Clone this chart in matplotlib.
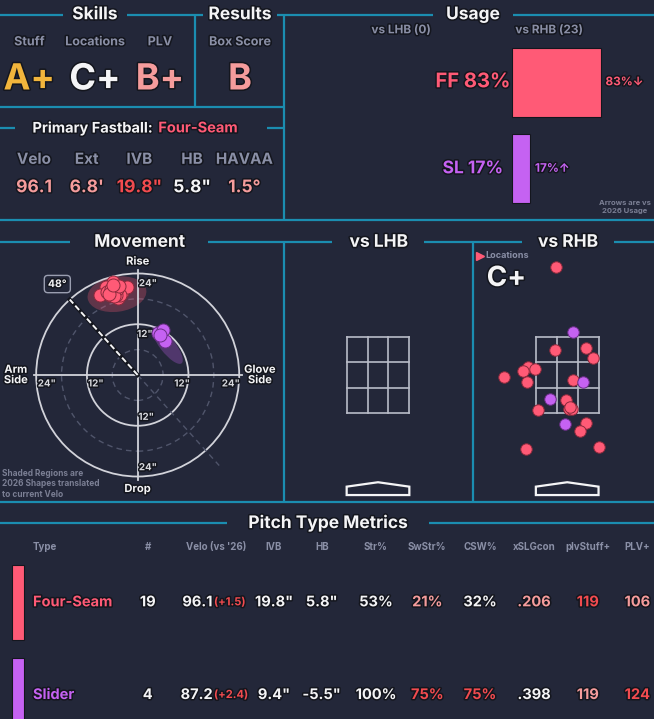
import matplotlib
matplotlib.use("Agg")
import matplotlib.pyplot as plt
import matplotlib.patheffects as pe
from matplotlib.patches import Ellipse, Circle, Polygon, Rectangle
import numpy as np

W, H = 654, 719
BG = "#232739"
OUTL = "#14161e"
TEAL = "#1b8db0"
GREY = "#8a8fa6"
DGREY = "#7b7f94"
WHITE = "#f4f4f6"
PINK = "#f59c9c"
RED = "#f24b4f"
GOLD = "#f2b53c"
FF_COL = "#ff5a76"
SL_COL = "#c562f2"

plt.rcParams['font.family'] = ['Inter', 'DejaVu Sans']
plt.rcParams['font.weight'] = 'bold'

# ---- data ----
skill_names = ["Stuff", "Locations", "PLV", "Box Score"]
skill_grades = ["A+", "C+", "B+", "B"]
skill_colors = [GOLD, WHITE, PINK, PINK]

fb_labels = ["Velo", "Ext", "IVB", "HB", "HAVAA"]
fb_values = ["96.1", "6.8'", '19.8"', '5.8"', "1.5°"]
fb_colors = [PINK, PINK, RED, WHITE, PINK]

pitch_codes = ["FF", "SL"]
pitch_names = ["Four-Seam", "Slider"]
pitch_colors = [FF_COL, SL_COL]
usage_rhb = [83, 17]
usage_arrows = ["↓", "↑"]
n_lhb = 0
n_rhb = 23

# movement (HB: arm side positive, inches)
ff_hb = [5.8, 7.5, 8.9, 6.5, 4.6, 5.4, 3.8, 2.6, 4.2, 5.0, 7.3, 6.0, 5.2, 4.8, 6.3, 5.5, 4.4, 6.8, 5.9]
ff_ivb = [22.1, 20.9, 18.9, 18.9, 18.1, 20.1, 19.7, 20.7, 18.9, 20.9, 19.7, 19.5, 19.0, 20.3, 20.4, 18.6, 21.0, 19.2, 21.3]
sl_hb = [-4.9, -6.0, -6.4, -5.3]
sl_ivb = [9.9, 10.6, 8.0, 9.5]
arm_angle = 48

# 2026 shapes
shape_hb = [4.9, -7.0]
shape_ivb = [19.1, 7.1]
shape_w = [14.0, 11.0]
shape_h = [8.3, 3.6]
shape_ang = [8, -52]

# locations vs RHB (feet)
ff_px = [-0.26, -0.27, 0.43, 0.58, -0.88, -0.72, -1.00, -1.44, -0.90, 0.14, -0.02, 0.03, 0.11, -0.65, 0.43, 0.30, -0.93, 0.72, 0.07]
ff_pz = [4.90, 3.03, 3.08, 2.86, 2.64, 2.60, 2.55, 2.42, 2.30, 2.35, 1.90, 1.70, 1.70, 1.67, 1.37, 1.21, 0.80, 0.84, 1.75]
sl_px = [0.12, 0.36, -0.40, -0.05]
sl_pz = [3.44, 2.30, 1.93, 1.36]

# table
col_names = ["Type", "#", "Velo (vs '26)", "IVB", "HB", "Str%", "SwStr%", "CSW%", "xSLGcon", "plvStuff+", "PLV+"]
counts = [19, 4]
velo = [96.1, 87.2]
velo_diff = [1.5, 2.4]
ivb = [19.8, 9.4]
hb = [5.8, -5.5]
str_pct = [53, 100]
swstr = [21, 75]
csw = [32, 75]
xslg = [0.206, 0.398]
stuff = [119, 119]
plv = [106, 124]
cell_colors = [
    [WHITE, WHITE, WHITE, WHITE, WHITE, PINK, WHITE, PINK, RED, PINK],
    [WHITE, WHITE, WHITE, WHITE, WHITE, RED, RED, WHITE, PINK, RED],
]

# ---- figure ----
fig = plt.figure(figsize=(W / 100, H / 100), dpi=100, facecolor=BG)
bg = fig.add_axes([0, 0, 1, 1])
bg.set_xlim(0, W)
bg.set_ylim(H, 0)
bg.axis('off')

stroke = [pe.withStroke(linewidth=2.2, foreground=OUTL)]


def px_axes(x0, y0, x1, y1):
    a = fig.add_axes([x0 / W, 1 - y1 / H, (x1 - x0) / W, (y1 - y0) / H])
    a.axis('off')
    return a


def txt(ax, x, y, s, size, color=WHITE, ha='center', va='center', **kw):
    return ax.text(x, y, s, fontsize=size, color=color, ha=ha, va=va,
                   fontweight='bold', path_effects=stroke, **kw)


def hline(y, x0, x1):
    bg.plot([x0, x1], [y, y], color=TEAL, lw=1.6, solid_capstyle='butt')


def vline(x, y0, y1):
    bg.plot([x, x], [y0, y1], color=TEAL, lw=1.6, solid_capstyle='butt')


# section frames
for seg in [(0, 63), (127, 203), (277, 433), (513, 654)]:
    hline(14.7, *seg)
vline(195, 14.7, 107.3)
vline(284, 14.7, 220)
hline(107.3, 0, 284)
hline(128.3, 0, 15)
hline(128.3, 267, 284)
hline(220, 0, 654)
for seg in [(0, 70), (208, 332), (424, 522), (614, 654)]:
    hline(242.3, *seg)
vline(284, 242.3, 502)
vline(473.3, 242.3, 502)
hline(502, 0, 654)
hline(523.3, 0, 227)
hline(523.3, 429, 654)

# titles
txt(bg, 95, 14.7, "Skills", 12.5)
txt(bg, 240, 14.7, "Results", 12.5)
txt(bg, 473, 14.7, "Usage", 12.5)
txt(bg, 139.5, 242.3, "Movement", 12.5)
txt(bg, 378.8, 242.3, "vs LHB", 12.5)
txt(bg, 568, 242.3, "vs RHB", 12.5)
txt(bg, 328, 523.3, "Pitch Type Metrics", 12.5)

# skills
for x, name, grade, col in zip([29.3, 95, 160, 240], skill_names, skill_grades, skill_colors):
    txt(bg, x, 42.3, name, 9, GREY)
    txt(bg, x, 80, grade, 26, col)

# primary fastball
txt(bg, 152.7, 128.3, "Primary Fastball:", 10.5, WHITE, ha='right')
txt(bg, 158.3, 128.3, pitch_names[0], 10.5, FF_COL, ha='left')
for x, lab, val, col in zip([34, 86.7, 139.3, 192, 244.3], fb_labels, fb_values, fb_colors):
    txt(bg, x, 159.3, lab, 11, GREY)
    txt(bg, x, 187.7, val, 12.5, col)

# usage
txt(bg, 401, 30.3, f"vs LHB ({n_lhb})", 8.5, GREY)
txt(bg, 549, 30.3, f"vs RHB ({n_rhb})", 8.5, GREY)
ua = px_axes(512.3, 39, 512.3 + 106.9, 212)
ua.set_xlim(0, 100)
ua.set_ylim(1.5, -0.5)
ua.barh(range(len(usage_rhb)), usage_rhb, height=0.8, color=pitch_colors,
        edgecolor=OUTL, linewidth=0.8)
for i, (code, u, arr, col) in enumerate(zip(pitch_codes, usage_rhb, usage_arrows, pitch_colors)):
    txt(ua, -36.8, i, f"{code} {u}%", 14.5 if i == 0 else 12.5, col)
    ua.annotate(f"{u}%{arr}", xy=(u, i), xytext=(3.2, 0), textcoords='offset points',
                ha='left', va='center', fontsize=8.5, color=col, fontweight='bold',
                path_effects=stroke, annotation_clip=False)
bg.text(651, 207, "Arrows are vs\n2026 Usage", fontsize=5.5, color=DGREY, ha='right',
        va='center', fontweight='bold', linespacing=1.3, multialignment='center')

# movement
ma = px_axes(0, 250, 284, 500)
ma.set_xlim(-32.55, 34.59)
ma.set_ylim(-29.55, 29.55)
for r in [6, 18]:
    ma.add_patch(Circle((0, 0), r, fill=False, ec="#50556b", lw=1, ls=(0, (4, 3))))
for r in [12, 24]:
    ma.add_patch(Circle((0, 0), r, fill=False, ec="#d2d3da", lw=1.3))
ma.plot([-24.6, 24.6], [0, 0], color="#d2d3da", lw=1.3)
ma.plot([0, 0], [-24.8, 24.8], color="#d2d3da", lw=1.3)
ang = np.radians(arm_angle)
ma.plot([0, 28.8 * np.cos(ang)], [0, -28.8 * np.sin(ang)], color="#4f546a", lw=1, ls=(0, (4, 3)))
ma.plot([0, -24 * np.cos(ang)], [0, 24 * np.sin(ang)], color=OUTL, lw=3)
ma.plot([0, -24 * np.cos(ang)], [0, 24 * np.sin(ang)], color=WHITE, lw=1.4, ls=(0, (3, 1.5)))
txt(ma, -19.0, 21.5, f"{arm_angle}°", 7.5, WHITE,
    bbox=dict(boxstyle="round,pad=0.35", fc=BG, ec="#9a9eb0", lw=1))
for i in range(2):
    ma.add_patch(Ellipse((-shape_hb[i], shape_ivb[i]), shape_w[i], shape_h[i], angle=shape_ang[i],
                         fc=pitch_colors[i], alpha=0.28, ec='none'))
ma.scatter([-v for v in ff_hb], ff_ivb, s=88, color=FF_COL, edgecolor="#8a2a3c", lw=0.7, zorder=5)
ma.scatter([-v for v in sl_hb], sl_ivb, s=88, color=SL_COL, edgecolor="#6a2e86", lw=0.7, zorder=5)
tick_c = "#d8d9de"
for x, y, s in [(2.4, 21.7, '24"'), (1.7, 9.7, '12"'), (-21.5, -2, '24"'), (-9.9, -2, '12"'),
                (10.5, -2, '12"'), (22.0, -2, '24"'), (2.0, -9.9, '12"'), (2.4, -21.8, '24"')]:
    txt(ma, x, y, s, 7, tick_c)
txt(ma, 0, 26.8, "Rise", 8)
txt(ma, 0, -26.95, "Drop", 8)
txt(ma, -28.8, 0, "Arm\nSide", 8, linespacing=1.05)
txt(ma, 28.9, 0, "Glove\nSide", 8, linespacing=1.05)
bg.text(1.5, 484, "Shaded Regions are\n2026 Shapes translated\nto current Velo", fontsize=6,
        color=DGREY, ha='left', va='center', fontweight='bold', linespacing=1.25)

# location panels
zw, zb, zt = 0.709, 1.6, 3.335


def draw_zone(a):
    for x in np.linspace(-zw, zw, 4):
        a.plot([x, x], [zb, zt], color="#b9bcc8", lw=1.2)
    for z in np.linspace(zb, zt, 4):
        a.plot([-zw, zw], [z, z], color="#b9bcc8", lw=1.2)
    a.add_patch(Polygon([(-zw, -0.25), (zw, -0.25), (zw, -0.06), (0, 0.04), (-zw, -0.06)],
                        closed=True, fill=False, ec=WHITE, lw=1.6))


la = px_axes(284, 250, 473, 500)
la.set_xlim((284 - 378) / 44.2, (473 - 378) / 44.2)
la.set_ylim(-0.362, 5.295)
draw_zone(la)

ra = px_axes(474, 250, 654, 500)
ra.set_xlim((474 - 567.2) / 44.2, (654 - 567.2) / 44.2)
ra.set_ylim(-0.362, 5.295)
draw_zone(ra)
ra.scatter(ff_px, ff_pz, s=68, color=FF_COL, edgecolor="#8a2a3c", lw=0.7, zorder=5)
ra.scatter(sl_px, sl_pz, s=68, color=SL_COL, edgecolor="#6a2e86", lw=0.7, zorder=5)
bg.plot(479.5, 256, marker='>', ms=6, color=FF_COL)
bg.text(485, 256, "Locations", fontsize=6.5, color=GREY, ha='left', va='center', fontweight='bold')
txt(bg, 486.7, 279, "C+", 20, WHITE, ha='left')

# pitch type metrics table
col_x = [33, 147.7, 216, 274, 321.7, 376, 427.3, 480, 534, 587.7, 637.3]
row_y = [602.3, 695]
for j, (x, name) in enumerate(zip(col_x, col_names)):
    bg.text(x, 546.7, name, fontsize=7, color=GREY, ha='left' if j == 0 else 'center',
            va='center', fontweight='bold')
for i, y in enumerate(row_y):
    bg.add_patch(Rectangle((12, y - 37.5), 12, 75, fc=pitch_colors[i], ec=OUTL, lw=0.8))
    txt(bg, col_x[0], y, pitch_names[i], 10.5, pitch_colors[i], ha='left')
    vals = [str(counts[i]), None, f'{ivb[i]}"', f'{hb[i]}"', f"{str_pct[i]}%", f"{swstr[i]}%",
            f"{csw[i]}%", f"{xslg[i]:.3f}".lstrip('0'), str(stuff[i]), str(plv[i])]
    for j, v in enumerate(vals):
        x = col_x[j + 1]
        if v is None:
            txt(bg, x - 3.5, y, f"{velo[i]}", 10.5, cell_colors[i][j], ha='right')
            txt(bg, x - 2, y, f"(+{velo_diff[i]})", 8, RED, ha='left')
        else:
            txt(bg, x, y, v, 10.5, cell_colors[i][j])

fig.savefig("out.png", dpi=100, facecolor=BG)
